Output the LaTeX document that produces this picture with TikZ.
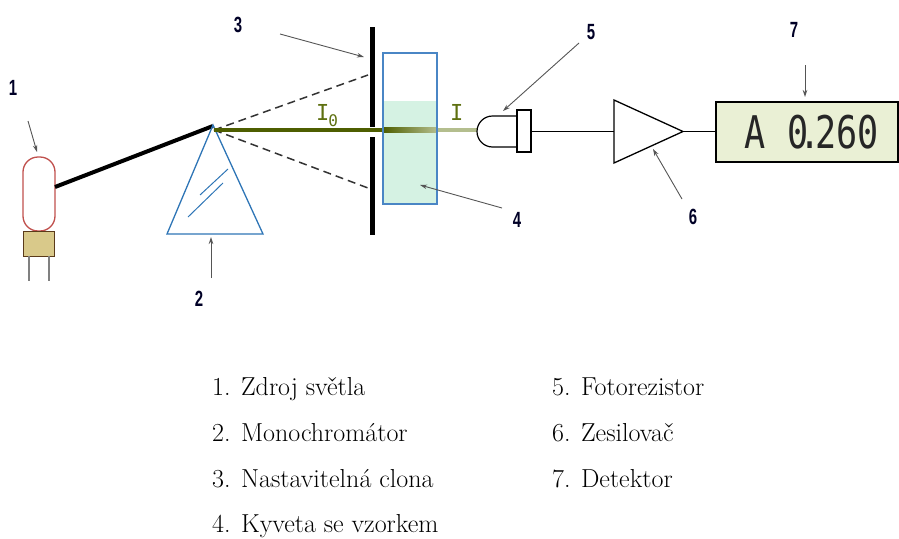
\documentclass[tikz,border=0pt]{standalone}
\usepackage{fontspec}
\newfontfamily\numfont[FakeStretch=0.68]{Liberation Sans}
\newfontfamily\beamfont{DejaVu Sans Mono}
\newfontfamily\lcdfont[FakeStretch=0.78]{DejaVu Sans Mono}
\usetikzlibrary{arrows.meta}

\definecolor{lampred}{HTML}{C0504D}
\definecolor{lampbase}{HTML}{D9C98A}
\definecolor{basebrown}{HTML}{5A3A1A}
\definecolor{prismblue}{HTML}{2E75B6}
\definecolor{cuvblue}{HTML}{4A86C5}
\definecolor{liquid}{HTML}{D5F2E3}
\definecolor{beamdark}{HTML}{4E5E00}
\definecolor{beamlight}{HTML}{B4BE8E}
\definecolor{beamtext}{HTML}{5E7010}
\definecolor{lcdbg}{HTML}{EAF0D5}
\definecolor{pointergray}{HTML}{555555}

\tikzset{
  pointer/.style={draw=pointergray, line width=0.9pt, -{Stealth[length=7pt,width=4.5pt]}},
  numlabel/.style={font=\numfont\bfseries\fontsize{22}{22}\selectfont, text=black!85!blue, inner sep=0pt},
  legend/.style={font=\rmfamily\fontsize{26}{26}\selectfont, anchor=base west, inner sep=0pt},
  wire/.style={line width=1.3pt},
  dashray/.style={dash pattern=on 8pt off 5pt, line width=1.5pt, black!80},
  beamlabel/.style={font=\beamfont\fontsize{22}{22}\selectfont, text=beamtext, anchor=base west, inner sep=0pt}
}

\begin{document}
\begin{tikzpicture}[x=1pt,y=-1pt]
\useasboundingbox (0,0) rectangle (899,538);

% key points
\coordinate (lampout) at (55,187);
\coordinate (apex) at (213,126);
\coordinate (beamstart) at (214,130);
\coordinate (cuvin) at (383,130);
\coordinate (cuvout) at (437,130);
\coordinate (pr) at (477,130);
\coordinate (upslit) at (368,75);
\coordinate (loslit) at (368,188);

% light source
\draw[lampred, line width=1.3pt, rounded corners=15pt] (23,157) rectangle (55,231);
\draw[basebrown, fill=lampbase, line width=1pt] (23,231) rectangle (54,256);
\draw[gray, line width=1.2pt] (29,256) -- (29,281) (49,256) -- (49,281);

% white light to the prism
\draw[line width=4pt] (lampout) -- (apex);

% monochromator
\draw[prismblue, line width=1.3pt, line join=miter] (213,125) -- (263,234) -- (167,234) -- cycle;
\draw[prismblue, line width=1pt] (200,195) -- (228,169) (188,217) -- (223,183);

% dispersed light
\draw[dashray] (beamstart) -- (upslit);
\draw[dashray] (beamstart) -- (loslit);

% cuvette liquid
\fill[liquid] (383,101) rectangle (437,204);

% monochromatic beam
\draw[beamdark, line width=4.5pt] (beamstart) -- (cuvin);
\shade[left color=beamdark, right color=beamlight] (383,127.8) rectangle (437,132.2);
\draw[beamlight, line width=3.5pt] (cuvout) -- (pr);

% cuvette
\draw[cuvblue, line width=1.2pt] (383,53) rectangle (437,204);

% adjustable slit
\fill (369.5,27) rectangle (374.5,127);
\fill (369.5,137) rectangle (374.5,235);

% beam labels
\node[beamlabel] (i0) at (316,120) {I\kern-1pt\raisebox{-6pt}{\fontsize{16}{16}\selectfont 0}};
\node[beamlabel] (i1) at (450,120) {I};

% photoresistor
\draw[line width=1.2pt, fill=white] (518,116) -- (492.5,116) arc[start angle=270, end angle=90, radius=15.5] -- (518,147);
\draw[line width=1.2pt, fill=white] (517,110) rectangle (531,152);
\coordinate (prout) at (531,131.5);

% amplifier
\draw[line width=1.3pt, line join=miter] (614,100) -- (683,131.5) -- (614,163) -- cycle;
\coordinate (ampin) at (614,131.5);
\coordinate (ampout) at (683,131.5);
\draw[wire] (prout) -- (ampin);

% detector display
\draw[line width=1.3pt, fill=lcdbg] (716,102) rectangle (898,162);
\coordinate (detin) at (716,131.5);
\draw[wire] (ampout) -- (detin);
\node[anchor=base west, inner sep=0pt, font=\lcdfont\fontsize{45}{45}\selectfont, text=black!85] (lcd) at (744,148)
  {A\kern22pt 0\kern-9pt.\kern-5pt 260};

% numbered labels and pointers
\node[numlabel] (n1) at (13,88) {1};
\node[numlabel] (n2) at (199,299) {2};
\node[numlabel] (n3) at (238,25) {3};
\node[numlabel] (n4) at (517,220) {4};
\node[numlabel] (n5) at (591,32) {5};
\node[numlabel] (n6) at (693,217) {6};
\node[numlabel] (n7) at (794,30) {7};

\coordinate (p1a) at (28,121);  \coordinate (p1b) at (37,152);
\coordinate (p2a) at (211,278); \coordinate (p2b) at (211,237);
\coordinate (p3a) at (280,34);  \coordinate (p3b) at (364,57);
\coordinate (p4a) at (502,208); \coordinate (p4b) at (420,185);
\coordinate (p5a) at (579,43);  \coordinate (p5b) at (503,111);
\coordinate (p6a) at (682,199); \coordinate (p6b) at (653,149);
\coordinate (p7a) at (805,65);  \coordinate (p7b) at (805,97);
\foreach \k in {1,...,7} \draw[pointer] (p\k a) -- (p\k b);

% legend
\node[legend] (l1) at (212,395) {1. Zdroj světla};
\node[legend] (l2) at (212,441) {2. Monochromátor};
\node[legend] (l3) at (212,487) {3. Nastavitelná clona};
\node[legend] (l4) at (212,532) {4. Kyveta se vzorkem};
\node[legend] (l5) at (552,395) {5. Fotorezistor};
\node[legend] (l6) at (552,441) {6. Zesilovač};
\node[legend] (l7) at (552,487) {7. Detektor};
\end{tikzpicture}
\end{document}
